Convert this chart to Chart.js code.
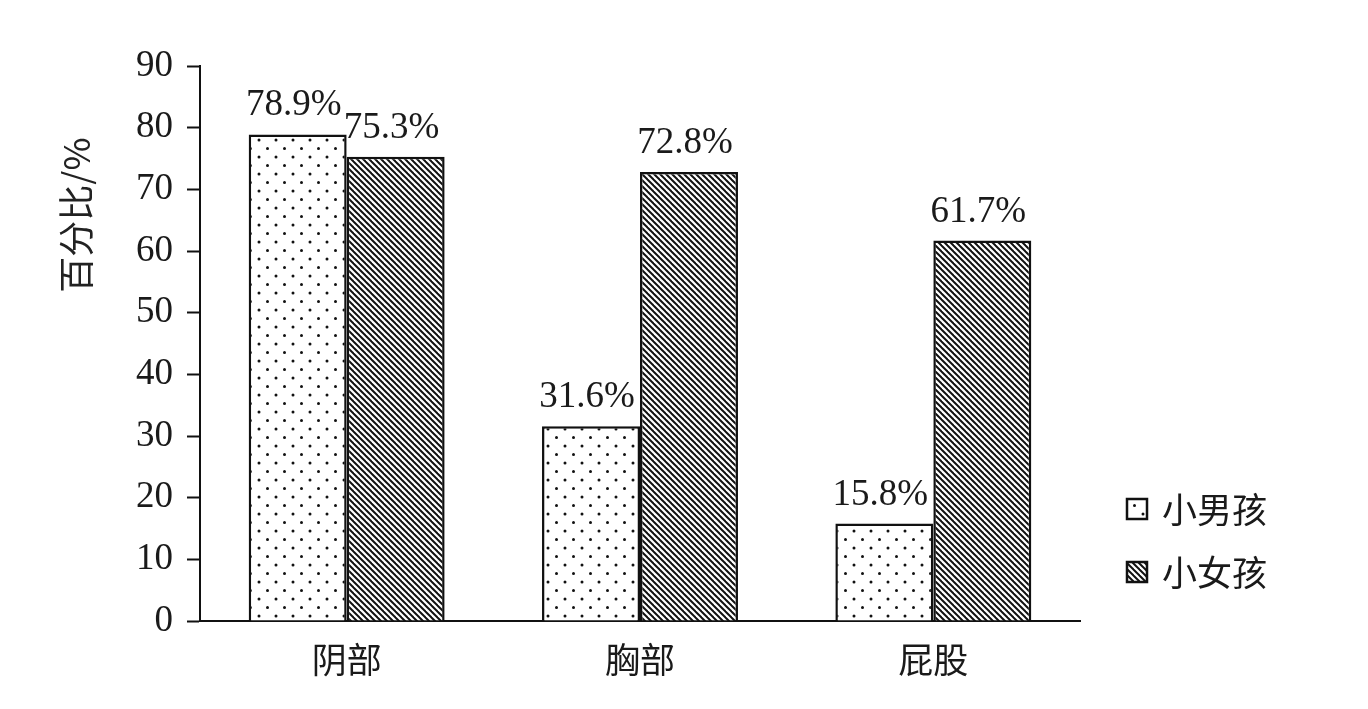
<!DOCTYPE html>
<html>
<head>
<meta charset="utf-8">
<script src="https://cdn.jsdelivr.net/npm/chart.js@4/dist/chart.umd.min.js"></script>
<style>
  body { margin: 0; background: #fff; }
  #wrap { width: 1368px; height: 709px; }
</style>
</head>
<body>
<div id="wrap"><canvas id="bodyChart"></canvas></div>
<script>
// data
const categories = ['阴部', '胸部', '屁股'];
const boyValues = [78.9, 31.6, 15.8];
const girlValues = [75.3, 72.8, 61.7];
const seriesNames = ['小男孩', '小女孩'];
const yTicks = [0, 10, 20, 30, 40, 50, 60, 70, 80, 90];

const serif = '"Liberation Serif", "DejaVu Serif", serif';
const cjk = '"Noto Sans CJK SC", sans-serif';

function makeDots() {
    const c = document.createElement('canvas');
    c.width = 17; c.height = 17;
    const g = c.getContext('2d');
    g.fillStyle = '#fff';
    g.fillRect(0, 0, 17, 17);
    g.fillStyle = '#111';
    [[4, 4], [12.5, 12.5]].forEach(function (p) {
        g.beginPath();
        g.arc(p[0], p[1], 1.5, 0, Math.PI * 2);
        g.fill();
    });
    return g.createPattern(c, 'repeat');
}

function makeHatch() {
    const s = 6;
    const c = document.createElement('canvas');
    c.width = s; c.height = s;
    const g = c.getContext('2d');
    g.fillStyle = '#fff';
    g.fillRect(0, 0, s, s);
    g.strokeStyle = '#111';
    g.lineWidth = 2;
    [[-s, 0], [0, 0], [s, 0]].forEach(function (o) {
        g.beginPath();
        g.moveTo(o[0] - 1, -1);
        g.lineTo(o[0] + s + 1, s + 1);
        g.stroke();
    });
    return g.createPattern(c, 'repeat');
}

const dotFill = makeDots();
const hatchFill = makeHatch();

// value labels over the bars
const valueLabels = {
    id: 'valueLabels',
    afterDatasetsDraw(chart) {
        const ctx = chart.ctx;
        ctx.save();
        ctx.font = '37px ' + serif;
        ctx.fillStyle = '#1a1a1a';
        ctx.textAlign = 'center';
        ctx.textBaseline = 'alphabetic';
        chart.data.datasets.forEach(function (ds, i) {
            chart.getDatasetMeta(i).data.forEach(function (bar, j) {
                ctx.fillText(ds.data[j].toFixed(1) + '%', bar.x - 4, bar.y - 19);
            });
        });
        ctx.restore();
    }
};

// y title and legend at the bottom right
const extras = {
    id: 'extras',
    afterDraw(chart) {
        const ctx = chart.ctx;
        ctx.save();
        ctx.translate(76, 215);
        ctx.rotate(-Math.PI / 2);
        ctx.font = '36px ' + cjk;
        ctx.fillStyle = '#222';
        ctx.textAlign = 'center';
        ctx.textBaseline = 'middle';
        ctx.fillText('百分比/%', 0, 0);
        ctx.restore();

        ctx.save();
        const fills = [dotFill, hatchFill];
        seriesNames.forEach(function (name, i) {
            const y = 509 + i * 63;
            ctx.fillStyle = fills[i];
            ctx.fillRect(1127, y - 10, 20, 20);
            ctx.strokeStyle = '#111';
            ctx.lineWidth = 2.5;
            ctx.strokeRect(1127, y - 10, 20, 20);
            ctx.font = '35px ' + cjk;
            ctx.fillStyle = '#1a1a1a';
            ctx.textAlign = 'left';
            ctx.textBaseline = 'middle';
            ctx.fillText(name, 1162, y + 1);
        });
        ctx.restore();
    }
};

new Chart(document.getElementById('bodyChart'), {
    type: 'bar',
    data: {
        labels: categories,
        datasets: [{
            label: seriesNames[0],
            data: boyValues,
            backgroundColor: dotFill,
            borderColor: '#111',
            borderWidth: 2.5,
            categoryPercentage: 0.668,
            barPercentage: 1
        },
        {
            label: seriesNames[1],
            data: girlValues,
            backgroundColor: hatchFill,
            borderColor: '#111',
            borderWidth: 2.5,
            categoryPercentage: 0.668,
            barPercentage: 1
        }]
    },
    options: {
        responsive: true,
        maintainAspectRatio: false,
        animation: false,
        layout: {
            padding: { top: 66, right: 288, bottom: 0, left: 0 }
        },
        plugins: {
            legend: { display: false },
            tooltip: { enabled: false }
        },
        scales: {
            x: {
                grid: { display: false },
                border: { color: '#111', width: 2 },
                ticks: {
                    color: '#1a1a1a',
                    padding: 10,
                    font: { family: cjk, size: 35 }
                },
                afterFit(scale) { scale.height = 88; }
            },
            y: {
                min: 0,
                max: 90,
                afterBuildTicks(scale) {
                    scale.ticks = yTicks.map(function (v) { return { value: v }; });
                },
                grid: {
                    drawOnChartArea: false,
                    drawTicks: true,
                    tickLength: 13,
                    tickWidth: 2,
                    color: '#111'
                },
                border: { color: '#111', width: 2 },
                ticks: {
                    color: '#1a1a1a',
                    padding: 14,
                    font: { family: serif, size: 37 }
                },
                afterFit(scale) { scale.width = 200; }
            }
        }
    },
    plugins: [valueLabels, extras]
});
</script>
</body>
</html>
